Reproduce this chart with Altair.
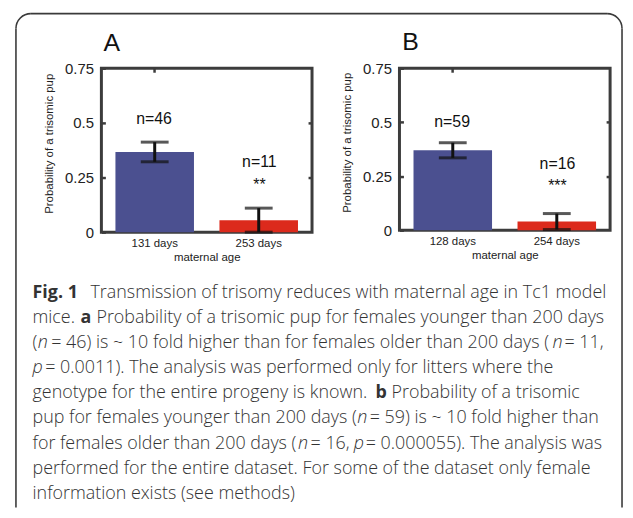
import altair as alt
import pandas as pd

# ---------------- data ----------------
a_cats = ["131 days", "253 days"]
a_vals = [0.367, 0.055]
a_err = [0.045, 0.055]
a_n = ["n=46", "n=11"]
a_n_y = [0.496, 0.299]
a_stars = ["", "**"]
a_star_y = [0.40, 0.193]

b_cats = ["128 days", "254 days"]
b_vals = [0.370, 0.040]
b_err = [0.035, 0.037]
b_n = ["n=59", "n=16"]
b_n_y = [0.478, 0.284]
b_stars = ["", "***"]
b_star_y = [0.40, 0.180]

y_ticks = [0, 0.25, 0.5, 0.75]
bar_colors = ["#4b5090", "#dc2a1c"]

caption_rows = [0, 0, 1, 1, 1, 2, 2, 2, 2, 2, 3, 3, 4, 4, 4, 5, 5, 5, 6, 6, 6, 6, 6, 7, 8]
caption_texts = [
    "Fig. 1", "Transmission of trisomy reduces with maternal age in Tc1 model",
    "mice.", "a", "Probability of a trisomic pup for females younger than 200 days",
    "(", "n", "= 46) is ~ 10 fold higher than for females older than 200 days (", "n", "= 11,",
    "p", "= 0.0011). The analysis was performed only for litters where the",
    "genotype for the entire progeny is known.", "b", "Probability of a trisomic",
    "pup for females younger than 200 days (", "n", "= 59) is ~ 10 fold higher than",
    "for females older than 200 days (", "n", "= 16,", "p", "= 0.000055). The analysis was",
    "performed for the entire dataset. For some of the dataset only female",
    "information exists (see methods)",
]
caption_styles = [
    "b", "n",
    "n", "b", "n",
    "n", "i", "n", "i", "n",
    "i", "n",
    "n", "b", "n",
    "n", "i", "n",
    "n", "i", "n", "i", "n",
    "n",
    "n",
]

# ---------------- layout (pixels, page coordinates) ----------------
A_X0, A_Y0 = 100, 65          # top-left of panel A plot area on the page
caption_x_page = [
    30.7, 89,
    30.7, 79, 95,
    30.7, 36, 49.5, 554, 566,
    30.7, 43.5,
    30.7, 376, 392,
    30.7, 357.5, 370,
    30.7, 298, 310.5, 354, 366,
    30.7,
    30.7,
]
CAP_BASE0, CAP_STEP = 296, 25.3
CAP_FONT, CAP_SIZE, CAP_COLOR = "Open Sans", 18, "#333333"
AX_FONT = "Liberation Sans"
FRAME = "#3c3c3c"
BORDER = "#3a3a3a"


def panel(cats, vals, errs, nlab, ny, stars, sy, w, h, letter, letter_xy, extra=()):
    df = pd.DataFrame({
        "cat": cats, "val": vals,
        "lo": [max(v - e, 0) for v, e in zip(vals, errs)],
        "hi": [v + e for v, e in zip(vals, errs)],
        "nlab": nlab, "ny": ny, "star": stars, "sy": sy,
    })
    base = alt.Chart(df)

    def X(axis):
        return alt.X("cat:N", scale=alt.Scale(domain=cats, paddingInner=0.245, paddingOuter=0.135), axis=axis)

    def Y(field, axis):
        return alt.Y(f"{field}:Q", scale=alt.Scale(domain=[0, 0.75], nice=False), axis=axis)

    left_axis = alt.Axis(orient="left", values=y_ticks, format=".2~f", labelFontSize=15,
                         labelPadding=8, offset=-4, tickSize=4, tickWidth=2.5, tickColor=FRAME,
                         title="Probability of a trisomic pup", titleFontSize=11.5,
                         titleFontWeight="normal", titlePadding=10, titleY=h / 2 - 7,
                         domain=False, grid=False)
    right_axis = alt.Axis(orient="right", values=[0.25, 0.5], labels=False, offset=-4, tickSize=4,
                          tickWidth=2.5, tickColor=FRAME, title="", domain=False, grid=False)
    bottom_axis = alt.Axis(orient="bottom", ticks=False, labelFontSize=11.5, labelPadding=5,
                           labelAngle=0, title="maternal age", titleFontSize=11.5,
                           titleFontWeight="normal", titlePadding=3, domain=False, grid=False)
    top_axis = alt.Axis(orient="top", values=[cats[0]], labels=False, offset=-4, tickSize=4,
                        tickWidth=2.5, tickColor=FRAME, title="", domain=False, grid=False)

    bars = base.mark_bar().encode(
        x=X(bottom_axis), y=Y("val", left_axis),
        color=alt.Color("cat:N", scale=alt.Scale(domain=cats, range=bar_colors), legend=None))
    err = base.mark_rule(color="#111111", strokeWidth=3).encode(
        x=X(None), y=Y("lo", None), y2="hi:Q")
    cap_lo = base.mark_tick(color="#111111", size=28, thickness=3).encode(x=X(None), y=Y("lo", None))
    cap_hi = base.mark_tick(color="#111111", size=28, thickness=3).encode(x=X(top_axis), y=Y("hi", right_axis))
    ntext = base.mark_text(font=AX_FONT, fontSize=16, color="#111111", baseline="alphabetic").encode(
        x=X(None), y=Y("ny", None), text="nlab:N")
    stext = base.mark_text(font=AX_FONT, fontSize=16, color="#111111", baseline="alphabetic").encode(
        x=X(None), y=Y("sy", None), text="star:N")
    letter_mark = alt.Chart(pd.DataFrame({"t": [letter]})).mark_text(
        font=AX_FONT, fontSize=25, color="#111111", align="left", baseline="alphabetic").encode(
        x=alt.value(letter_xy[0]), y=alt.value(letter_xy[1]), text="t:N")

    return alt.layer(bars, err, cap_lo, cap_hi, ntext, stext, letter_mark, *extra).resolve_scale(
        x="independent", y="independent").properties(width=w, height=h)


# ---------------- caption + border (drawn in panel A's frame) ----------------
cap_df = pd.DataFrame({
    "t": caption_texts,
    "s": caption_styles,
    "px": [x - A_X0 for x in caption_x_page],
    "py": [CAP_BASE0 + CAP_STEP * r - A_Y0 for r in caption_rows],
})
cap_layers = []
for style, weight, fstyle in [("n", 300, "normal"), ("b", "bold", "normal"), ("i", 300, "italic")]:
    cap_layers.append(
        alt.Chart(cap_df).transform_filter(alt.datum.s == style).mark_text(
            font=CAP_FONT, fontSize=CAP_SIZE, color=CAP_COLOR, align="left", baseline="alphabetic",
            fontWeight=weight, fontStyle=fstyle).encode(
            x=alt.X("px:Q", scale=None, axis=None), y=alt.Y("py:Q", scale=None, axis=None), text="t:N"))

one = pd.DataFrame({"k": [0]})
bl, bt, br, bb, rad = 14 - A_X0, 10 - A_Y0, 624 - A_X0, 507 - A_Y0, 15
border_layers = [
    alt.Chart(one).mark_rule(color=BORDER, strokeWidth=1.6).encode(
        x=alt.value(bl), y=alt.value(bt + rad), y2=alt.value(bb)),
    alt.Chart(one).mark_rule(color=BORDER, strokeWidth=1.6).encode(
        x=alt.value(br), y=alt.value(bt + rad), y2=alt.value(bb)),
    alt.Chart(one).mark_rule(color=BORDER, strokeWidth=1.6).encode(
        x=alt.value(bl + rad), x2=alt.value(br - rad), y=alt.value(bt)),
    alt.Chart(one).mark_arc(color=BORDER, radius=rad + 0.8, radius2=rad - 0.8,
                            theta=4.7124, theta2=6.2832).encode(
        x=alt.value(bl + rad), y=alt.value(bt + rad)),
    alt.Chart(one).mark_arc(color=BORDER, radius=rad + 0.8, radius2=rad - 0.8,
                            theta=0, theta2=1.5708).encode(
        x=alt.value(br - rad), y=alt.value(bt + rad)),
]

panel_a = panel(a_cats, a_vals, a_err, a_n, a_n_y, a_stars, a_star_y, 212, 165, "A",
                (102 - A_X0, 47.7 - A_Y0), extra=cap_layers + border_layers)
panel_b = panel(b_cats, b_vals, b_err, b_n, b_n_y, b_stars, b_star_y, 212, 163, "B",
                (2.7, 46.7 - A_Y0))

chart = alt.hconcat(
    panel_a, panel_b, spacing=88, bounds="flush",
).properties(
    padding={"left": 5, "top": 1, "right": 0, "bottom": 0}
).configure_view(
    stroke=FRAME, strokeWidth=3
).configure_axis(
    labelFont=AX_FONT, titleFont=AX_FONT, labelColor="#222222", titleColor="#222222"
)

chart.save("out.html", embed_options={"renderer": "svg", "actions": False})
